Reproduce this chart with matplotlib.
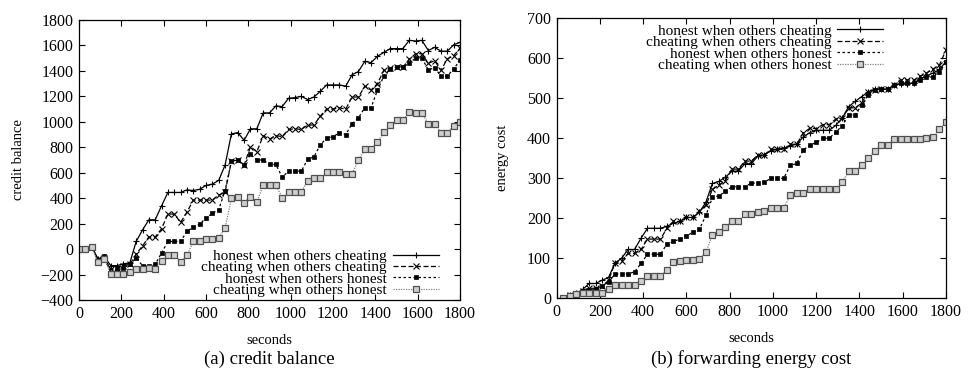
import numpy as np
import matplotlib
matplotlib.use("Agg")
import matplotlib.pyplot as plt

plt.rcParams['font.family'] = ['Liberation Serif', 'DejaVu Serif']

labels = ['honest when others cheating', 'cheating when others cheating',
          'honest when others honest', 'cheating when others honest']

# (a) credit balance, sampled every 30 s from 0 to 1800
t_credit = np.arange(0, 1801, 30)
credit_hc = [0, 0, 20, -80, -60, -130, -130, -115, -110, 60, 150, 230, 230, 340, 445, 445,
             445, 465, 460, 470, 500, 510, 540, 660, 905, 915, 855, 945, 945, 1070, 1070,
             1125, 1120, 1185, 1190, 1200, 1175, 1195, 1240, 1290, 1290, 1290, 1280, 1370,
             1395, 1475, 1465, 1515, 1545, 1575, 1575, 1575, 1640, 1635, 1640, 1560, 1585,
             1555, 1555, 1605, 1625]
credit_cc = [0, 0, 20, -80, -70, -160, -150, -130, -120, -40, 25, 95, 95, 160, 275, 275,
             210, 290, 385, 385, 385, 385, 425, 445, 690, 700, 660, 805, 765, 890, 865,
             890, 885, 940, 945, 940, 975, 975, 1045, 1100, 1100, 1110, 1100, 1195, 1195,
             1280, 1250, 1300, 1405, 1420, 1430, 1430, 1490, 1535, 1535, 1460, 1480, 1405,
             1495, 1520, 1578]
credit_hh = [0, 0, 20, -90, -55, -185, -160, -150, -120, -70, -130, -130, -120, -30, 60, 60,
             60, 140, 170, 195, 245, 280, 310, 460, 690, 700, 660, 745, 700, 700, 665,
             665, 565, 612, 612, 612, 705, 725, 820, 872, 882, 915, 900, 985, 1030,
             1112, 1112, 1250, 1358, 1415, 1432, 1432, 1460, 1500, 1500, 1408, 1425, 1358,
             1360, 1415, 1485]
credit_ch = [0, 0, 20, -105, -80, -195, -195, -195, -177, -159, -155, -150, -160, -90, -45, -45,
             -100, -50, 60, 65, 80, 80, 85, 165, 400, 410, 365, 410, 370, 500, 500,
             500, 405, 447, 447, 447, 538, 556, 556, 604, 604, 604, 590, 590, 700,
             784, 784, 839, 918, 975, 1012, 1012, 1078, 1072, 1072, 983, 983, 915,
             915, 970, 1000]

# (b) forwarding energy cost, sampled every 30 s from 30 to 1800
t_energy = np.arange(30, 1801, 30)
energy_hc = [0, 7, 12, 22, 37, 37, 45, 52, 88, 100, 122, 122, 150, 175, 175, 175, 180, 188,
             192, 202, 202, 215, 240, 287, 292, 303, 317, 318, 336, 336, 356, 358, 369, 372,
             376, 380, 386, 403, 414, 420, 420, 420, 432, 450, 479, 492, 504, 516, 522, 523,
             523, 532, 536, 536, 538, 548, 556, 563, 572, 592]
energy_cc = [0, 7, 11, 18, 25, 25, 30, 45, 88, 94, 112, 112, 122, 148, 148, 148, 175, 192,
             192, 202, 202, 219, 232, 272, 283, 294, 323, 323, 343, 343, 358, 358, 372, 373,
             372, 385, 385, 413, 425, 424, 434, 434, 448, 450, 476, 476, 488, 515, 520, 524,
             523, 534, 546, 546, 545, 555, 563, 573, 583, 621]
energy_hh = [0, 6, 10, 15, 20, 22, 30, 40, 61, 61, 61, 66, 87, 110, 110, 110, 136, 142,
             148, 156, 165, 173, 207, 252, 256, 267, 279, 279, 279, 288, 288, 290, 300, 300,
             300, 332, 337, 371, 382, 390, 400, 400, 415, 431, 459, 459, 482, 508, 521, 523,
             523, 533, 537, 537, 538, 546, 552, 554, 566, 590]
energy_ch = [0, 6, 10, 13, 14, 14, 14, 24, 32, 32, 32, 32, 44, 56, 56, 56, 70, 90,
             92, 96, 96, 98, 115, 158, 166, 178, 192, 192, 211, 211, 216, 219, 225, 225,
             225, 258, 264, 264, 274, 274, 274, 274, 274, 290, 317, 317, 333, 350, 368, 383,
             383, 398, 398, 398, 398, 398, 400, 404, 422, 441]

styles = [
    dict(color='black', ls='-', lw=0.9, marker='+', ms=4, mew=0.8),
    dict(color='black', ls=(0, (4, 2)), lw=0.9, marker='x', ms=4, mew=0.8),
    dict(color='black', ls=(0, (2, 2)), lw=0.9, marker='s', ms=2.5, mew=0.5),
    dict(color='#808080', ls=(0, (1, 1)), lw=0.9, marker='s', ms=4, mew=0.9,
         mfc='#cfcfcf', mec='#505050'),
]


def style_axes(ax):
    ax.tick_params(direction='in', top=True, right=True, labelsize=11.5, length=4, pad=4)
    for s in ax.spines.values():
        s.set_linewidth(0.9)


fig = plt.figure(figsize=(9.73, 3.71), dpi=100)

ax1 = fig.add_axes([0.0812, 0.1914, 0.3916, 0.7547])
for y, lab, st in zip([credit_hc, credit_cc, credit_hh, credit_ch], labels, styles):
    ax1.plot(t_credit, y, label=lab, **st)
ax1.set_xlim(0, 1800)
ax1.set_ylim(-400, 1800)
ax1.set_xticks(range(0, 1801, 200))
ax1.set_yticks(range(-400, 1801, 200))
ax1.set_xlabel('seconds', fontsize=10.5, labelpad=9)
ax1.set_ylabel('credit balance', fontsize=10.5, labelpad=11)
style_axes(ax1)
ax1.legend(loc='lower right', bbox_to_anchor=(0.948, 0.005), frameon=False, markerfirst=False,
           fontsize=11, labelspacing=-0.15, handlelength=3.0, handletextpad=0.4,
           borderpad=0, borderaxespad=0.1)

ax2 = fig.add_axes([0.5721, 0.196, 0.4001, 0.7547])
for y, lab, st in zip([energy_hc, energy_cc, energy_hh, energy_ch], labels, styles):
    ax2.plot(t_energy, y, label=lab, **st)
ax2.set_xlim(0, 1800)
ax2.set_ylim(0, 700)
ax2.set_xticks(range(0, 1801, 200))
ax2.set_yticks(range(0, 701, 100))
ax2.set_xlabel('seconds', fontsize=10.5, labelpad=9)
ax2.set_ylabel('energy cost', fontsize=10.5, labelpad=13)
style_axes(ax2)
ax2.legend(loc='upper right', bbox_to_anchor=(0.843, 0.985), frameon=False, markerfirst=False,
           fontsize=11, labelspacing=-0.15, handlelength=3.0, handletextpad=0.4,
           borderpad=0, borderaxespad=0.1)

fig.text(0.277, 0.02, '(a) credit balance', ha='center', fontsize=13.5)
fig.text(0.772, 0.02, '(b) forwarding energy cost', ha='center', fontsize=13.5)

fig.savefig('out.png', dpi=100)
